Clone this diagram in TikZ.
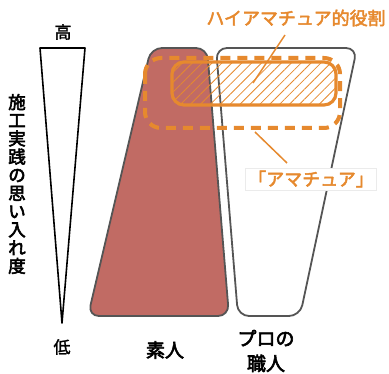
\documentclass[tikz,border=0pt]{standalone}
\usepackage{fontspec}
\setmainfont{Noto Sans CJK JP}
\newfontfamily\jpsemi[FakeBold=3.2]{Noto Sans CJK JP}
\newfontfamily\jpmed[FakeBold=2.6]{Noto Sans CJK JP}
\newfontfamily\jplight[FakeBold=1.6]{Noto Sans CJK JP}
\usetikzlibrary{patterns.meta}
\definecolor{amber}{HTML}{E6892E}
\definecolor{brick}{HTML}{C16B64}
\definecolor{edgegray}{HTML}{555555}
\tikzset{
  lbl/.style={inner sep=0pt, text=black},
  orlbl/.style={inner sep=0pt, text=amber},
  leader/.style={draw=amber, line width=1.5pt},
  trap/.style={draw=edgegray, line width=1.8pt, rounded corners=11pt}
}
\begin{document}
\begin{tikzpicture}[x=1pt,y=-1pt]
\useasboundingbox (0,0) rectangle (389,374);
% scale triangle
\draw[line width=1.6pt, line join=round] (40,48) -- (85,48) -- (62,323) -- cycle;
\node[lbl, font=\jplight\fontsize{17}{17}\selectfont] (hi) at (63,32) {高};
\node[lbl, font=\jplight\fontsize{17}{17}\selectfont] (lo) at (62,347) {低};
\node[lbl, font=\jpsemi\fontsize{17.5}{18.2}\selectfont, align=center] (axis) at (17,184)
  {施\\工\\実\\践\\の\\思\\い\\入\\れ\\度};
% trapezoids
\draw[trap, fill=brick] (151,48) -- (207,48) -- (229,316) -- (88,316) -- cycle;
\draw[trap, fill=white] (216,48) -- (357,48) -- (300,316) -- (238,316) -- cycle;
% amateur zones
\draw[draw=amber, line width=4pt, dash pattern=on 10pt off 7pt, rounded corners=16pt]
  (145,58) rectangle (340,128);
\draw[draw=amber, line width=3.2pt, rounded corners=12pt,
  pattern={Lines[angle=45,distance=7pt,line width=0.8pt]}, pattern color=amber]
  (172,62) rectangle (336,105);
% labels
\node[orlbl, font=\jpmed\fontsize{18}{18}\selectfont] (role) at (296,18) {ハイアマチュア的役割};
\coordinate (rtop) at (285,35);
\coordinate (rbot) at (253,83);
\draw[leader] (rtop) -- (rbot);
\coordinate (atop) at (255,132);
\coordinate (abot) at (287,163);
\draw[leader] (atop) -- (abot);
\node[orlbl, font=\jpmed\fontsize{18}{18}\selectfont, fill=white, draw=black!8, line width=0.6pt, inner sep=2.5pt] (ama) at (311,179) {「アマチュア」};
\node[lbl, font=\jpsemi\fontsize{19}{19}\selectfont] (amat) at (165,350) {素人};
\node[lbl, font=\jpsemi\fontsize{19}{25}\selectfont, align=center] (pro) at (266,351) {プロの\\職人};
\end{tikzpicture}
\end{document}
